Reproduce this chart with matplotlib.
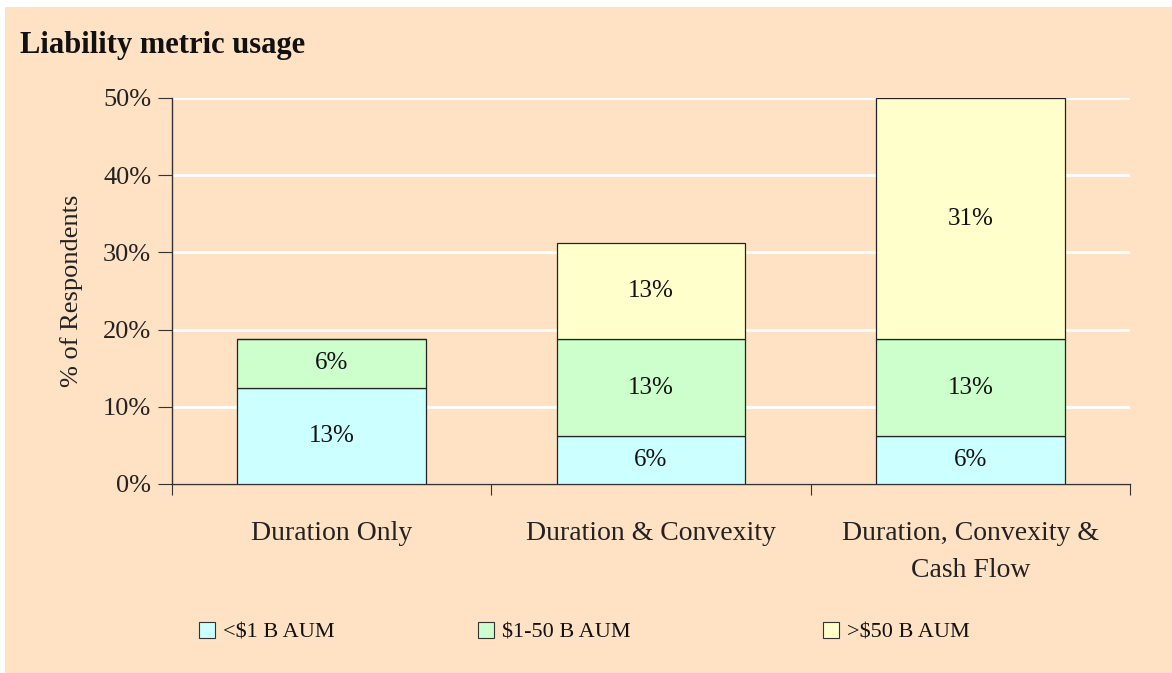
import matplotlib.pyplot as plt
from matplotlib.patches import Rectangle, Patch
from matplotlib.ticker import FuncFormatter, FixedLocator
import numpy as np

# data (share of respondents)
categories = ["Duration Only", "Duration & Convexity", "Duration, Convexity &\nCash Flow"]
small_aum = [0.125, 0.0625, 0.0625]
mid_aum = [0.0625, 0.125, 0.125]
large_aum = [0.0, 0.125, 0.3125]
series_names = ["<$1 B AUM", "$1-50 B AUM", ">$50 B AUM"]
series_colors = ["#CCFFFF", "#CCFFCC", "#FFFFCC"]

peach = "#FFE1C4"
plt.rcParams['font.family'] = ['Liberation Serif', 'DejaVu Serif']


def pct(v):
    # round half up like the original (12.5 -> 13)
    return f"{int(v * 100 + 0.5)}%"


W, H = 1172, 673
fig = plt.figure(figsize=(W / 100, H / 100), dpi=100, facecolor="white")
fig.patches.append(Rectangle((5 / W, 0), 1, 1 - 7 / H, transform=fig.transFigure,
                             facecolor=peach, edgecolor="none", zorder=-10))

ax = fig.add_axes([172 / W, 1 - 484 / H, (1130 - 172) / W, (484 - 98) / H])
ax.set_facecolor(peach)

x = np.arange(len(categories))
bottom = np.zeros(len(categories))
for vals, name, col in zip([small_aum, mid_aum, large_aum], series_names, series_colors):
    vals = np.array(vals)
    ax.bar(x, vals, width=0.59, bottom=bottom, color=col, edgecolor="#222222",
           linewidth=0.9, label=name, zorder=3)
    for xi, b, v in zip(x, bottom, vals):
        if v > 0:
            ax.text(xi, b + v / 2, pct(v), ha="center", va="center",
                    fontsize=18, color="#111111", zorder=4)
    bottom += vals

ax.set_xlim(-0.5, len(categories) - 0.5)
ax.set_ylim(0, 0.5)
ax.set_yticks(np.arange(0, 0.51, 0.1))
ax.yaxis.set_major_formatter(FuncFormatter(lambda v, p: f"{v * 100:.0f}%"))
ax.yaxis.grid(True, color="white", linewidth=2, zorder=0)
ax.set_axisbelow(True)

ax.xaxis.set_major_locator(FixedLocator(np.arange(-0.5, len(categories), 1.0)))
ax.xaxis.set_major_formatter(FuncFormatter(lambda v, p: ""))
ax.xaxis.set_minor_locator(FixedLocator(x))
ax.set_xticklabels(categories, minor=True)
ax.tick_params(axis="x", which="minor", length=0, labelsize=20, pad=27)
ax.tick_params(axis="x", which="major", length=8, direction="out", color="#333333")
ax.tick_params(axis="y", length=10, direction="out", labelsize=19, pad=5, color="#333333",
               labelcolor="#222222")
for lab in ax.get_xticklabels(minor=True):
    lab.set_color("#222222")
    lab.set_linespacing(1.6)

for s in ["top", "right"]:
    ax.spines[s].set_visible(False)
for s in ["left", "bottom"]:
    ax.spines[s].set_color("#333333")
    ax.spines[s].set_linewidth(1.0)

ax.set_ylabel("% of Respondents", fontsize=19, color="#222222", labelpad=14)

fig.text(20 / W, 1 - 46 / H, "Liability metric usage", fontsize=22, fontweight="bold",
         va="center", ha="left", color="#111111")

# legend entries spread along the bottom
for name, col, xpos in zip(series_names, series_colors, [179, 458, 803]):
    lg = fig.legend(handles=[Patch(facecolor=col, edgecolor="#333333", linewidth=0.8)],
                    labels=[name], loc="center left",
                    bbox_to_anchor=(xpos / W, 1 - 632 / H), frameon=False,
                    fontsize=16, handlelength=0.7, handleheight=0.75, handletextpad=0.4)
    for t in lg.get_texts():
        t.set_color("#111111")

fig.savefig("out.png", dpi=100, facecolor="white")
